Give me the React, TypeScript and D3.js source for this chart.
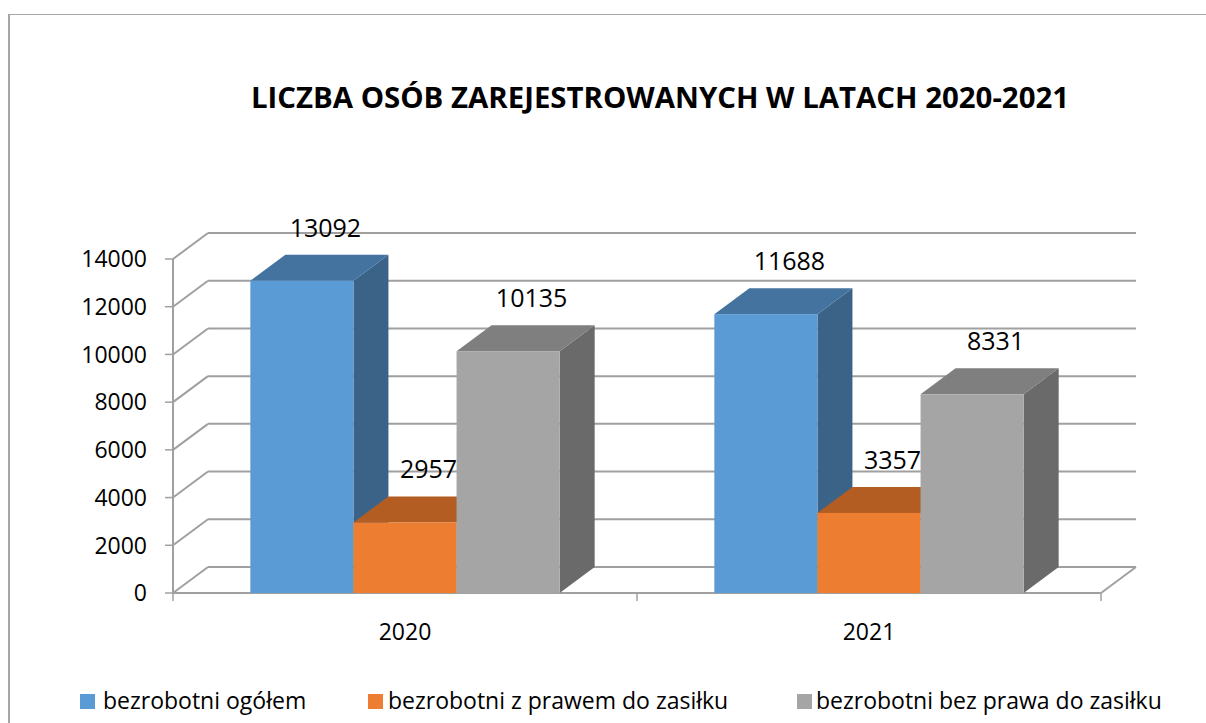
import React from "react";
import * as d3 from "d3";

const categories = ["2020", "2021"];
const seriesNames = [
  "bezrobotni ogółem",
  "bezrobotni z prawem do zasiłku",
  "bezrobotni bez prawa do zasiłku",
];
const ogolem = [13092, 11688];
const zPrawem = [2957, 3357];
const bezPrawa = [10135, 8331];
const yTicks = [0, 2000, 4000, 6000, 8000, 10000, 12000, 14000];
const title = "LICZBA OSÓB ZAREJESTROWANYCH W LATACH 2020-2021";

const frontColors = ["#5B9BD5", "#ED7D31", "#A5A5A5"];
const topColors = ["#44739F", "#B35D22", "#7F7F7F"];
const sideColors = ["#3A6387", "#9E5220", "#6A6A6A"];

const W = 1206;
const H = 723;
const X0 = 173;
const X1 = 1101;
const Y0 = 593;
const Y1 = 259;
const DX = 35;
const DY = -26;
const GRID = "#A0A0A0";
const FONT = "'Open Sans', 'Liberation Sans', sans-serif";

export default function App() {
  const seriesValues = [ogolem, zPrawem, bezPrawa];
  const y = d3.scaleLinear().domain([0, 14000]).range([Y0, Y1]);
  const xCat = d3
    .scaleBand<string>()
    .domain(categories)
    .range([X0, X1])
    .paddingInner(1 / 3)
    .paddingOuter(1 / 6);
  const xSer = d3
    .scaleBand<number>()
    .domain(seriesNames.map((_, i) => i))
    .range([0, xCat.bandwidth()]);

  const legendX = [80, 368, 797];
  const legendTextX = [103, 388, 816];

  return (
    <svg
      width={W}
      height={H}
      style={{ position: "absolute", left: 0, top: 0, background: "#fff" }}
    >
      <rect x={0} y={0} width={W} height={H} fill="#fff" />
      {/* outer border */}
      <line x1={9} y1={14} x2={9} y2={H + 5} stroke="#A6A6A6" strokeWidth={2} />
      <line x1={9} y1={14.5} x2={W + 5} y2={14.5} stroke="#A6A6A6" strokeWidth={1} />

      <text
        x={660}
        y={108}
        textAnchor="middle"
        fontFamily={FONT}
        fontWeight="bold"
        fontSize={29.4}
        fill="#000"
      >
        {title}
      </text>

      {/* gridlines: left wall diagonals + back wall lines */}
      {yTicks.map((t) => (
        <g key={t}>
          <line
            x1={X0}
            y1={y(t)}
            x2={X0 + DX}
            y2={y(t) + DY}
            stroke={GRID}
            strokeWidth={2}
          />
          <line
            x1={X0 + DX}
            y1={y(t) + DY}
            x2={X1 + DX}
            y2={y(t) + DY}
            stroke={GRID}
            strokeWidth={2}
          />
          <line x1={X0 - 8} y1={y(t)} x2={X0} y2={y(t)} stroke={GRID} strokeWidth={1.5} />
          <text
            x={147}
            y={y(t)}
            dy="0.36em"
            textAnchor="end"
            fontFamily={FONT}
            fontSize={23}
            fill="#000"
          >
            {t}
          </text>
        </g>
      ))}
      {/* floor right edge */}
      <line x1={X1} y1={Y0} x2={X1 + DX} y2={Y0 + DY} stroke={GRID} strokeWidth={2} />
      {/* axes */}
      <line x1={X0} y1={Y1} x2={X0} y2={Y0} stroke={GRID} strokeWidth={2} />
      <line x1={X0} y1={Y0} x2={X1} y2={Y0} stroke={GRID} strokeWidth={2} />
      {[X0, (xCat("2021") as number) - xCat.step() * (1 / 6), X1].map((xx, i) => (
        <line key={i} x1={xx} y1={Y0} x2={xx} y2={Y0 + 8} stroke={GRID} strokeWidth={1.5} />
      ))}

      {/* bars */}
      {categories.map((c, ci) => (
        <g key={c}>
          {seriesValues.map((vals, si) => {
            const v = vals[ci];
            const xl = (xCat(c) as number) + (xSer(si) as number);
            const xr = xl + xSer.bandwidth();
            const yt = y(v);
            const top = `M${xl},${yt}L${xr},${yt}L${xr + DX},${yt + DY}L${xl + DX},${yt + DY}Z`;
            const side = `M${xr},${Y0}L${xr},${yt}L${xr + DX},${yt + DY}L${xr + DX},${Y0 + DY}Z`;
            return (
              <g key={si}>
                <path d={side} fill={sideColors[si]} />
                <path d={top} fill={topColors[si]} />
                <rect x={xl} y={yt} width={xr - xl} height={Y0 - yt} fill={frontColors[si]} />
              </g>
            );
          })}
        </g>
      ))}

      {/* value labels */}
      {categories.map((c, ci) =>
        seriesValues.map((vals, si) => {
          const v = vals[ci];
          const xc = (xCat(c) as number) + (xSer(si) as number) + xSer.bandwidth() / 2;
          return (
            <text
              key={`${c}-${si}`}
              x={xc + DX / 2 + 6}
              y={y(v) + DY - 18}
              textAnchor="middle"
              fontFamily={FONT}
              fontSize={25}
              fill="#000"
            >
              {v}
            </text>
          );
        })
      )}

      {/* category labels */}
      {categories.map((c) => (
        <text
          key={c}
          x={(xCat(c) as number) + xCat.bandwidth() / 2}
          y={640}
          textAnchor="middle"
          fontFamily={FONT}
          fontSize={23}
          fill="#000"
        >
          {c}
        </text>
      ))}

      {/* legend */}
      {seriesNames.map((n, i) => (
        <g key={n}>
          <rect x={legendX[i]} y={694} width={15} height={15} fill={frontColors[i]} />
          <text
            x={legendTextX[i]}
            y={709}
            fontFamily={FONT}
            fontSize={23}
            fill="#000"
          >
            {n}
          </text>
        </g>
      ))}
    </svg>
  );
}
